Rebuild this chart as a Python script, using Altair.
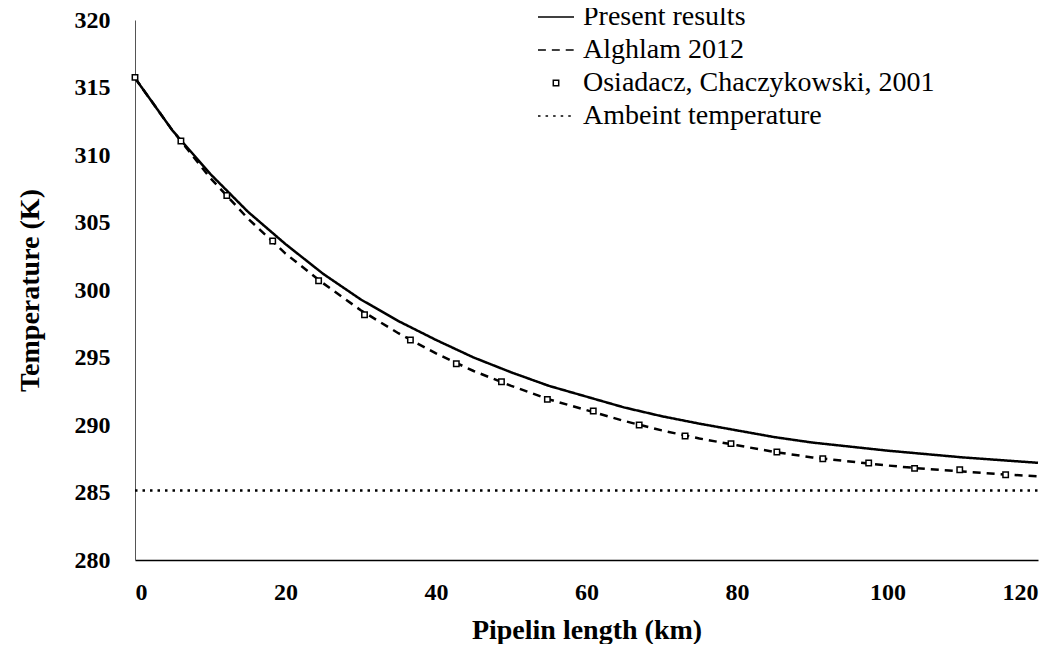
import altair as alt
import pandas as pd

# ---- data ----
curve_km = [0, 5, 10, 15, 20, 25, 30, 35, 40, 45, 50, 55, 60, 65, 70, 75, 80, 85, 90, 95, 100, 105, 110, 115, 120]
present_T = [315.7, 311.8, 308.6, 305.8, 303.4, 301.2, 299.3, 297.7, 296.3, 295.0, 293.9, 292.9, 292.1,
             291.3, 290.65, 290.1, 289.6, 289.1, 288.7, 288.4, 288.1, 287.85, 287.6, 287.4, 287.2]
alghlam_T = [315.7, 311.8, 308.3, 305.3, 302.7, 300.5, 298.5, 296.8, 295.3, 294.0, 292.9, 291.9, 291.1,
             290.3, 289.6, 289.0, 288.5, 288.0, 287.6, 287.3, 287.0, 286.75, 286.55, 286.35, 286.2]
obs_km = [0, 6.1, 12.2, 18.3, 24.4, 30.5, 36.6, 42.7, 48.7, 54.8, 60.9, 67.0, 73.1, 79.2, 85.3, 91.4,
          97.5, 103.6, 109.6, 115.7]
obs_T = [315.75, 311.04, 307.0, 303.63, 300.68, 298.17, 296.3, 294.54, 293.2, 291.9, 291.04, 290.0,
         289.19, 288.62, 288.0, 287.5, 287.19, 286.79, 286.69, 286.32]
ambient_km = [0, 120]
ambient_T = [285.15, 285.15]

series_names = ["Present results", "Alghlam 2012", "Osiadacz, Chaczykowski, 2001", "Ambeint temperature"]
line_names = [series_names[0], series_names[1], series_names[3]]
x_ticks = [0, 20, 40, 60, 80, 100, 120]
y_ticks = [280, 285, 290, 295, 300, 305, 310, 315, 320]

lines_df = pd.concat([
    pd.DataFrame({"km": curve_km, "T": present_T, "series": series_names[0]}),
    pd.DataFrame({"km": curve_km, "T": alghlam_T, "series": series_names[1]}),
    pd.DataFrame({"km": ambient_km, "T": ambient_T, "series": series_names[3]}),
], ignore_index=True)
points_df = pd.DataFrame({"km": obs_km, "T": obs_T, "series": series_names[2]})

# legend / marker symbols (unit box -1..1)
sym_solid = "M-1,0L1,0"
sym_dashed = "M-1,0L-0.56,0M-0.23,0L0.21,0M0.54,0L0.98,0"
sym_square = "M-0.15,-0.15L0.15,-0.15L0.15,0.15L-0.15,0.15Z"
sym_dotted = "M-1,0L-0.86,0M-0.58,0L-0.44,0M-0.16,0L-0.02,0M0.26,0L0.4,0M0.68,0L0.82,0"

FONT = "Liberation Serif"

x_enc = alt.X("km:Q", scale=alt.Scale(domain=[0, 120], nice=False, zero=False),
              axis=alt.Axis(values=x_ticks, title="Pipelin length (km)", ticks=False, grid=False,
                            labelPadding=20, titlePadding=12, domainColor="black", domainWidth=1.5,
                            format="d"))
y_enc = alt.Y("T:Q", scale=alt.Scale(domain=[280, 320], nice=False, zero=False),
              axis=alt.Axis(values=y_ticks, title="Temperature (K)", ticks=False, grid=False,
                            labelPadding=25, titlePadding=30, domainColor="#555", domainWidth=1,
                            format="d"))

legend = alt.Legend(
    title=None, orient="none", legendX=402, legendY=-22,
    labelFont=FONT, labelFontSize=28, labelColor="black", labelLimit=1000,
    symbolSize=1300, symbolOpacity=1,
    rowPadding=0, labelOffset=8,
)

dash_scale = alt.Scale(domain=line_names, range=[[1, 0], [8, 6], [2.5, 5]])
shape_scale = alt.Scale(domain=series_names, range=[sym_solid, sym_dashed, sym_square, sym_dotted])

lines = alt.Chart(lines_df).mark_line(color="black", strokeWidth=2.5).encode(
    x=x_enc, y=y_enc,
    strokeDash=alt.StrokeDash("series:N", scale=dash_scale, legend=None),
)
points = alt.Chart(points_df).mark_point(fill="white", stroke="black", strokeWidth=1.5,
                                         size=1300, opacity=1, fillOpacity=1).encode(
    x=x_enc, y=y_enc,
    shape=alt.Shape("series:N", scale=shape_scale, legend=legend),
)

chart = alt.layer(lines, points).properties(
    width=903, height=540,
    background="white",
    padding={"left": 8, "top": -10, "right": 0, "bottom": 0},
).configure_view(stroke=None).configure_axis(
    labelFont=FONT, labelFontWeight="bold", labelFontSize=24, labelColor="black",
    titleFont=FONT, titleFontWeight="bold", titleFontSize=28, titleColor="black",
)

chart.save("out.html", embed_options={"renderer": "svg", "actions": False})
